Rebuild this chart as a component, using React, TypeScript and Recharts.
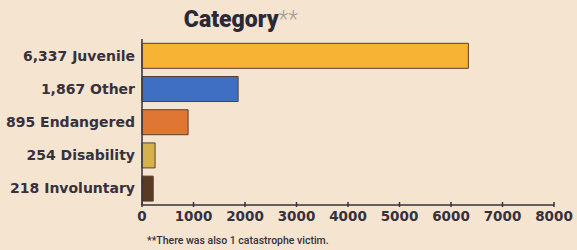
import React from 'react';
import { BarChart, Bar, XAxis, YAxis, Cell } from 'recharts';

const categories = ['Juvenile', 'Other', 'Endangered', 'Disability', 'Involuntary'];
const counts = [6337, 1867, 895, 254, 218];
const barColors = ['#f6b334', '#3f6fc2', '#df7634', '#d6b24c', '#5b3a22'];
const xTicks = [0, 1000, 2000, 3000, 4000, 5000, 6000, 7000, 8000];

const BG = '#f5e4d0';
const INK = '#36313d';
const FONT = '"DejaVu Sans", sans-serif';

const chartData = categories.map((name, i) => ({
  label: `${counts[i].toLocaleString('en-US')} ${name}`,
  value: counts[i],
}));

const XTick = (props: any) => {
  const { x, y, payload } = props;
  return (
    <g>
      <line x1={x} x2={x} y1={y - 5} y2={y} stroke={INK} strokeWidth={1.5} />
      <text x={x} y={y + 14} textAnchor="middle" fill={INK} fontSize={13.5} fontWeight={700} fontFamily={FONT}>
        {payload.value}
      </text>
    </g>
  );
};

export default function App() {
  return (
    <div style={{ position: 'absolute', left: 0, top: 0, width: 577, height: 250, background: BG, fontFamily: FONT }}>
      <div style={{ position: 'absolute', left: 0, width: 482, top: 6, textAlign: 'center', fontSize: 23, fontWeight: 900, color: '#2b2838', fontFamily: 'Roboto, sans-serif' }}>
        Category<span style={{ color: '#a59d9a', fontWeight: 300 }}>**</span>
      </div>
      <BarChart
        width={577}
        height={250}
        data={chartData}
        layout="vertical"
        margin={{ top: 39, right: 23, bottom: 15, left: 0 }}
        barCategoryGap="13%"
      >
        <XAxis
          type="number"
          domain={[0, 8000]}
          ticks={xTicks}
          tickLine={false}
          tickSize={0}
          axisLine={{ stroke: INK, strokeWidth: 1.5 }}
          tick={<XTick />}
          interval={0}
        />
        <YAxis
          type="category"
          dataKey="label"
          width={142}
          tickLine={false}
          tickMargin={1}
          axisLine={{ stroke: INK, strokeWidth: 1.5 }}
          tick={{ fill: INK, fontSize: 14, fontWeight: 700, fontFamily: FONT }}
        />
        <Bar dataKey="value" isAnimationActive={false} stroke="#5a4030" strokeWidth={1}>
          {chartData.map((d, i) => (
            <Cell key={d.label} fill={barColors[i]} />
          ))}
        </Bar>
      </BarChart>
      <div style={{ position: 'absolute', left: 147, top: 234, fontSize: 10.5, fontWeight: 500, color: INK, fontFamily: 'Roboto, sans-serif' }}>
        **There was also 1 catastrophe victim.
      </div>
    </div>
  );
}
